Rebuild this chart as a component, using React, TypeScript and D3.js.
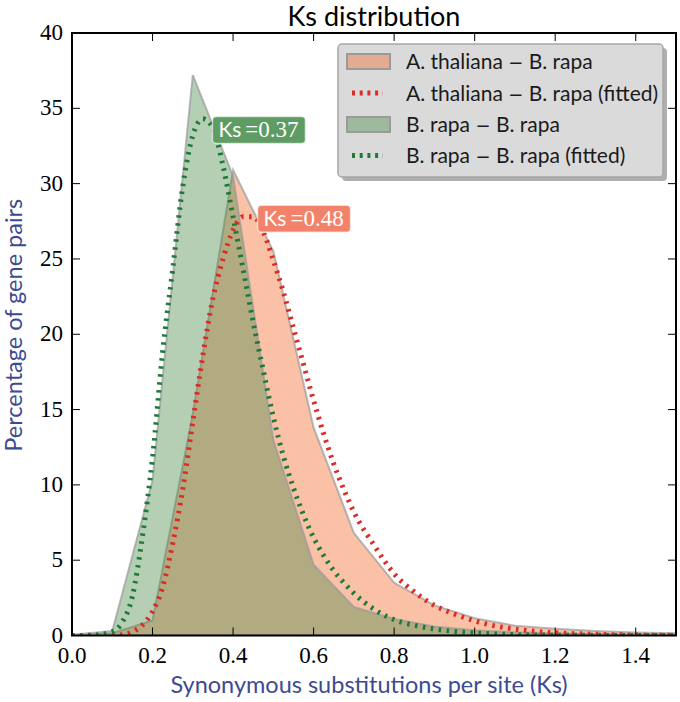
import React from "react";
import * as d3 from "d3";

// ---- data ----
const OBS_X = [0, 0.1, 0.2, 0.3, 0.4, 0.5, 0.6, 0.7, 0.8, 0.9, 1.0, 1.1, 1.2, 1.3, 1.4, 1.5];
const AT_BR_OBS = [0, 0.15, 1.0, 14.7, 30.9, 25.5, 13.8, 6.8, 3.5, 2.0, 1.15, 0.65, 0.45, 0.3, 0.2, 0.15];
const BR_BR_OBS = [0.05, 0.3, 10.3, 37.2, 30.5, 13.0, 4.7, 1.9, 1.1, 0.6, 0.35, 0.22, 0.15, 0.1, 0.07, 0.05];

const FIT_X = [0, 0.05, 0.1, 0.125, 0.15, 0.175, 0.2, 0.225, 0.25, 0.275, 0.3, 0.325, 0.35, 0.375, 0.4, 0.425, 0.45, 0.475, 0.5, 0.525, 0.55, 0.575, 0.6, 0.625, 0.65, 0.675, 0.7, 0.75, 0.8, 0.85, 0.9, 0.95, 1.0, 1.05, 1.1, 1.15, 1.2, 1.3, 1.4, 1.5];
const AT_BR_FIT = [0, 0, 0, 0.05, 0.25, 0.7, 1.6, 3.2, 6.1, 9.7, 14.2, 18.6, 22.4, 25.0, 26.9, 27.8, 27.8, 26.8, 24.9, 22.8, 20.4, 18.0, 15.6, 13.4, 11.4, 9.7, 8.2, 6.0, 4.1, 2.9, 2.0, 1.42, 0.97, 0.64, 0.43, 0.28, 0.18, 0.08, 0.03, 0.01];
const BR_BR_FIT = [0, 0.02, 0.25, 0.9, 2.6, 6.6, 11.8, 18.8, 24.3, 29.8, 33.2, 34.3, 33.7, 31.2, 27.8, 24.3, 20.8, 17.6, 14.5, 11.9, 9.8, 8.0, 6.5, 5.3, 4.3, 3.5, 2.8, 1.75, 1.05, 0.68, 0.43, 0.27, 0.17, 0.1, 0.06, 0.04, 0.02, 0.01, 0, 0];

const X_TICKS = [0, 0.2, 0.4, 0.6, 0.8, 1.0, 1.2, 1.4];
const Y_TICKS = [0, 5, 10, 15, 20, 25, 30, 35, 40];

// legend labels: [left part, right part] joined by a math minus
const LEGEND_LABELS: [string, string][] = [
  ["A. thaliana", "B. rapa"],
  ["A. thaliana", "B. rapa (fitted)"],
  ["B. rapa", "B. rapa"],
  ["B. rapa", "B. rapa (fitted)"],
];
const ANNOTATIONS = [
  { label: "0.37", x: 0.35, y: 33.6, color: "#5e9c63" },
  { label: "0.48", x: 0.462, y: 27.7, color: "#f2836a" },
];

// ---- layout ----
const W = 680, H = 702;
const L = 72, R = 676, T = 33, B = 635.5;

const RED_FILL = "#f26522";
const GREEN_FILL = "#468746";
const RED_LINE = "#dc2a26";
const GREEN_LINE = "#1f7a3a";
const LABEL_BLUE = "#3d4b91";
const SANS = "Lato, 'Open Sans', sans-serif";
const SERIF = "'Liberation Serif', 'DejaVu Serif', serif";

export default function App() {
  const x = d3.scaleLinear().domain([0, 1.5]).range([L, R]);
  const y = d3.scaleLinear().domain([0, 40]).range([B, T]);

  const area = d3
    .area<[number, number]>()
    .x((d) => x(d[0]))
    .y0(y(0))
    .y1((d) => y(d[1]));
  const line = d3
    .line<[number, number]>()
    .x((d) => x(d[0]))
    .y((d) => y(d[1]))
    .curve(d3.curveMonotoneX);

  const atObs = OBS_X.map((v, i) => [v, AT_BR_OBS[i]] as [number, number]);
  const brObs = OBS_X.map((v, i) => [v, BR_BR_OBS[i]] as [number, number]);
  const atFit = FIT_X.map((v, i) => [v, AT_BR_FIT[i]] as [number, number]);
  const brFit = FIT_X.map((v, i) => [v, BR_BR_FIT[i]] as [number, number]);

  const dash = "2.5 5.5";
  const tickLen = 8;

  const legX = 338, legY = 44, legW = 325, legH = 133;
  const rowY = [61.5, 93, 124.5, 155.5];

  return (
    <svg width={W} height={H} style={{ position: "absolute", left: 0, top: 0, background: "#fff" }}>
      <defs>
        <clipPath id="plotclip">
          <rect x={L} y={T} width={R - L} height={B - T} />
        </clipPath>
      </defs>
      <rect x={0} y={0} width={W} height={H} fill="#fff" />

      <g clipPath="url(#plotclip)">
        <path d={area(atObs) || ""} fill={RED_FILL} fillOpacity={0.4} stroke="#9a9a9a" strokeOpacity={0.7} strokeWidth={2} />
        <path d={area(brObs) || ""} fill={GREEN_FILL} fillOpacity={0.4} stroke="#9a9a9a" strokeOpacity={0.7} strokeWidth={2} />
        <path d={line(atFit) || ""} fill="none" stroke={RED_LINE} strokeWidth={5} strokeDasharray={dash} />
        <path d={line(brFit) || ""} fill="none" stroke={GREEN_LINE} strokeWidth={5} strokeDasharray={dash} />
      </g>

      {/* ticks inward on all four sides */}
      <g stroke="#000" strokeWidth={1}>
        {X_TICKS.map((t) => (
          <g key={"xt" + t}>
            <line x1={x(t)} x2={x(t)} y1={B} y2={B - tickLen} />
            <line x1={x(t)} x2={x(t)} y1={T} y2={T + tickLen} />
          </g>
        ))}
        {Y_TICKS.map((t) => (
          <g key={"yt" + t}>
            <line x1={L} x2={L + tickLen} y1={y(t)} y2={y(t)} />
            <line x1={R} x2={R - tickLen} y1={y(t)} y2={y(t)} />
          </g>
        ))}
      </g>
      <rect x={L} y={T} width={R - L} height={B - T} fill="none" stroke="#000" strokeWidth={2} />

      {/* tick labels */}
      <g fontFamily={SERIF} fontSize={23} fill="#000">
        {X_TICKS.map((t) => (
          <text key={"xl" + t} x={x(t)} y={B + 27} textAnchor="middle">
            {t.toFixed(1)}
          </text>
        ))}
        {Y_TICKS.map((t) => (
          <text key={"yl" + t} x={L - 9} y={y(t) + 7} textAnchor="end">
            {t}
          </text>
        ))}
      </g>

      {/* axis labels & title */}
      <text x={(L + R) / 2} y={26} textAnchor="middle" fontFamily={SANS} fontSize={27} fill="#000">
        Ks distribution
      </text>
      <text x={369} y={693} textAnchor="middle" fontFamily={SANS} fontSize={23.5} fill={LABEL_BLUE}>
        Synonymous substitutions per site (Ks)
      </text>
      <text
        transform={`translate(22, ${(T + B) / 2 - 9}) rotate(-90)`}
        textAnchor="middle"
        fontFamily={SANS}
        fontSize={23.5}
        fill={LABEL_BLUE}
      >
        Percentage of gene pairs
      </text>

      {/* annotations */}
      {ANNOTATIONS.map((a) => {
        const bx = x(a.x) - 0.5;
        const by = y(a.y) - 13;
        return (
          <g key={a.label}>
            <rect x={bx} y={by} width={93} height={27} rx={4} fill={a.color} stroke="#ffffff" strokeOpacity={0.6} strokeWidth={1.5} />
            <text x={bx + 6} y={by + 21} fill="#fff">
              <tspan fontFamily={SANS} fontSize={21}>Ks</tspan>
              <tspan fontFamily={SERIF} fontSize={23} dx={4}>=0.</tspan>
              <tspan fontFamily={SERIF} fontSize={23}>{a.label.slice(2)}</tspan>
            </text>
          </g>
        );
      })}

      {/* legend */}
      <rect x={legX + 4} y={legY + 4} width={legW} height={legH} rx={4} fill="#7a7a7a" fillOpacity={0.6} />
      <rect x={legX} y={legY} width={legW} height={legH} rx={4} fill="#dadada" stroke="#a6a6a6" strokeWidth={1.5} />
      {LEGEND_LABELS.map((lab, i) => {
        const cy = rowY[i];
        let swatch;
        if (i === 0 || i === 2) {
          swatch = (
            <rect x={347} y={cy - 7.5} width={43} height={15} fill={i === 0 ? RED_FILL : GREEN_FILL} fillOpacity={0.4} stroke="#9a9a9a" strokeWidth={2} />
          );
        } else {
          swatch = (
            <line x1={352} x2={383} y1={cy} y2={cy} stroke={i === 1 ? RED_LINE : GREEN_LINE} strokeWidth={5} strokeDasharray="3 4.7" />
          );
        }
        return (
          <g key={i}>
            {swatch}
            <text x={406} y={cy + 7.5} fontFamily={SANS} fontSize={21} fill="#1a1a1a">
              <tspan>{lab[0] + " "}</tspan>
              <tspan fontFamily="'DejaVu Sans', sans-serif" fontSize={18}>{"\u2212"}</tspan>
              <tspan>{" " + lab[1]}</tspan>
            </text>
          </g>
        );
      })}
    </svg>
  );
}
